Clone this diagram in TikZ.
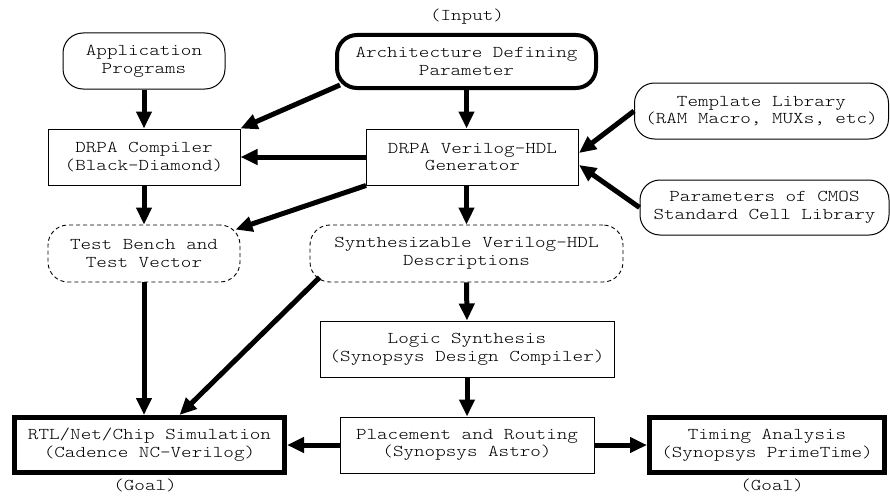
\documentclass[tikz,border=0pt]{standalone}
\usepackage{fontspec}
\setmonofont[FakeStretch=1.22]{lmmonolt10-regular.otf}
\usetikzlibrary{arrows.meta,calc}
\begin{document}
\begin{tikzpicture}[x=1pt,y=-1pt,
  every node/.style={font=\ttfamily\fontsize{16.5}{17.7}\selectfont,
    align=center, inner sep=0pt},
  plainbox/.style={draw, line width=1pt, minimum height=56pt},
  roundbox/.style={draw, line width=1pt, rounded corners=20pt, minimum height=56pt},
  dashbox/.style={draw, line width=0.9pt, dash pattern=on 4pt off 3pt,
    rounded corners=20pt, minimum height=57pt},
  inputbox/.style={draw, line width=4pt, rounded corners=20pt, minimum height=53pt},
  goalbox/.style={draw, line width=5pt, minimum height=55pt},
  flow/.style={line width=5pt, -{Triangle[length=17pt,width=15pt]}},
  tag/.style={}
]
\useasboundingbox (0,0) rectangle (890,495);

% inputs
\node[roundbox, minimum width=162pt] (app) at (144,61) {Application\\Programs};
\node[inputbox, minimum width=259pt] (arch) at (466.5,61.5) {Architecture Defining\\Parameter};
\node[tag] (input) at (467,17) {(Input)};
\node[roundbox, minimum width=254pt] (tmpl) at (761.5,111) {Template Library\\(RAM Macro, MUXs, etc)};
\node[roundbox, minimum width=249pt, minimum height=55pt] (cmos) at (764.5,207.5) {Parameters of CMOS\\Standard Cell Library};

% tools
\node[plainbox, minimum width=192pt] (comp) at (144,157) {DRPA Compiler\\(Black-Diamond)};
\node[plainbox, minimum width=212pt] (gen) at (472.5,157) {DRPA Verilog-HDL\\Generator};

% intermediate descriptions
\node[dashbox, minimum width=192pt] (tb) at (144,253.5) {Test Bench and\\Test Vector};
\node[dashbox, minimum width=313pt] (syn) at (466.5,253.5) {Synthesizable Verilog-HDL\\Descriptions};

% back end
\node[plainbox, minimum width=294pt] (logic) at (467,349) {Logic Synthesis\\(Synopsys Design Compiler)};
\node[plainbox, minimum width=254pt] (place) at (467,445) {Placement and Routing\\(Synopsys Astro)};

% goals
\node[goalbox, minimum width=270pt] (rtl) at (149.5,445) {RTL/Net/Chip Simulation\\(Cadence NC-Verilog)};
\node[goalbox, minimum width=235pt] (timing) at (767,445) {Timing Analysis\\(Synopsys PrimeTime)};
\node[tag] (goal1) at (145,485.5) {(Goal)};
\node[tag] (goal2) at (772,485.5) {(Goal)};

% connectors
\draw[flow] (app.south) -- (comp.north);
\draw[flow] ($(arch.south west)+(5,-5)$) -- (comp.north east);
\draw[flow] (arch.south) -- (arch.south |- gen.north);
\draw[flow] (gen.west) -- (comp.east);
\draw[flow] (gen.south west) -- ($(tb.north east)+(-5,5)$);
\draw[flow] (syn.north |- gen.south) -- (syn.north);
\draw[flow] (tmpl.west) -- ($(gen.east)+(0,-4)$);
\draw[flow] (cmos.west) -- ($(gen.east)+(0,8)$);
\draw[flow] (comp.south) -- (tb.north);
\draw[flow] (tb.south) -- (tb.south |- rtl.north);
\draw[flow] ($(syn.south west)+(10,-5)$) -- ($(rtl.north)+(30,0)$);
\draw[flow] (syn.south) -- (logic.north);
\draw[flow] (logic.south) -- (place.north);
\draw[flow] (place.west) -- (rtl.east);
\draw[flow] (place.east) -- (timing.west);
\end{tikzpicture}
\end{document}
